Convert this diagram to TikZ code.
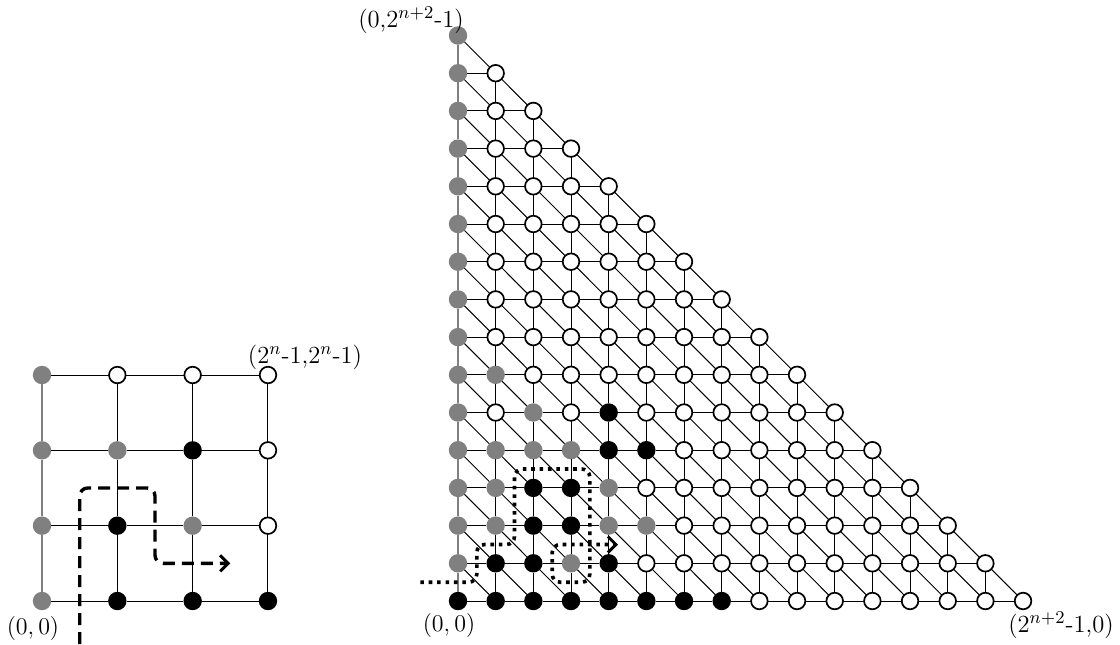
\documentclass[tikz,border=0pt]{standalone}
\usetikzlibrary{arrows.meta}
\begin{document}
\begin{tikzpicture}[x=0.5pt,y=-0.5pt,
  pt/.style={circle,inner sep=0pt,outer sep=0pt},
  wn/.style={pt,draw=black,fill=white,line width=0.85pt,minimum size=8.3pt},
  bn/.style={pt,draw=none,fill=black,minimum size=9.2pt},
  gn/.style={pt,draw=none,fill=gray,minimum size=9.2pt},
  edge/.style={line width=0.5pt,black},
  gedge/.style={line width=0.6pt,gray},
  lbl/.style={font=\fontsize{12.3}{14}\selectfont,inner sep=0pt},
  dashpath/.style={line width=1.7pt,dash pattern=on 6pt off 3.5pt,rounded corners=4pt,
    -{Straight Barb[length=4pt,width=8pt,line width=1.5pt]}},
  dotpath/.style={line width=1.8pt,dash pattern=on 1.8pt off 2.4pt,rounded corners=4pt,
    -{Straight Barb[length=4pt,width=8pt,line width=1.5pt]}},
  % right grid colours
  Rc0/.style={gn},
  R0-0/.style={bn},R1-0/.style={bn},R2-0/.style={bn},R3-0/.style={bn},
  R4-0/.style={bn},R5-0/.style={bn},R6-0/.style={bn},R7-0/.style={bn},
  R1-1/.style={bn},R2-1/.style={bn},R3-1/.style={gn},R4-1/.style={bn},
  R1-2/.style={gn},R2-2/.style={bn},R3-2/.style={bn},R4-2/.style={gn},R5-2/.style={gn},
  R1-3/.style={gn},R2-3/.style={bn},R3-3/.style={bn},R4-3/.style={gn},
  R1-4/.style={gn},R2-4/.style={gn},R3-4/.style={gn},R4-4/.style={bn},R5-4/.style={bn},
  R2-5/.style={gn},R4-5/.style={bn},
  R1-6/.style={gn},
  % left grid colours
  Lc0/.style={gn},
  L1-0/.style={bn},L2-0/.style={bn},L3-0/.style={bn},
  L1-1/.style={bn},L2-1/.style={gn},
  L1-2/.style={gn},L2-2/.style={bn}
]
\useasboundingbox (0,0) rectangle (1120,644);

% ---------- left grid ----------
\foreach \j in {0,...,3}{
  \foreach \i in {0,...,3}{
    \node[wn,Lc\i/.try,L\i-\j/.try] (l-\i-\j) at ({42+75.33*\i},{601-75.33*\j}) {};
  }
}
\foreach \j in {0,...,3}{
  \foreach \i in {0,...,2}{
    \pgfmathtruncatemacro\ii{\i+1}
    \draw[edge] (l-\i-\j) -- (l-\ii-\j);
  }
}
\foreach \i in {0,...,3}{
  \foreach \j in {0,...,2}{
    \pgfmathtruncatemacro\jj{\j+1}
    \ifnum\i=0
      \draw[gedge] (l-\i-\j) -- (l-\i-\jj);
    \else
      \draw[edge] (l-\i-\j) -- (l-\i-\jj);
    \fi
  }
}

% ---------- right triangle ----------
\foreach \j in {0,...,15}{
  \pgfmathtruncatemacro\m{15-\j}
  \foreach \i in {0,...,\m}{
    \node[wn,Rc\i/.try,R\i-\j/.try] (r-\i-\j) at ({458+37.67*\i},{601-37.7*\j}) {};
  }
}
\foreach \j in {0,...,14}{
  \pgfmathtruncatemacro\m{14-\j}
  \foreach \i in {0,...,\m}{
    \pgfmathtruncatemacro\ii{\i+1}
    \pgfmathtruncatemacro\jj{\j+1}
    \draw[edge] (r-\i-\j) -- (r-\ii-\j);
    \ifnum\i=0
      \draw[gedge] (r-\i-\j) -- (r-\i-\jj);
    \else
      \draw[edge] (r-\i-\j) -- (r-\i-\jj);
    \fi
    \draw[edge] (r-\i-\jj) -- (r-\ii-\j);
  }
}

% ---------- labels ----------
\node[lbl] (lab00l) at (33,628) {$(0,0)$};
\node[lbl] (lab00r) at (449,625) {$(0,0)$};
\node[lbl] (labsq) at (305,357) {(2$^n$-1,2$^n$-1)};
\node[lbl] (labtop) at (411,20) {(0,2$^{n+2}$-1)};
\node[lbl] (labbr) at (1061,625) {(2$^{n+2}$-1,0)};

% ---------- paths ----------
\coordinate (ds) at (79.7,644);
\coordinate (de) at (230.3,563.3);
\draw[dashpath] (ds) |- (155,488) |- (de);

\coordinate (ps) at (420.3,582.2);
\coordinate (pe) at (618,544.5);
\draw[dotpath] (ps) -- (476.8,582.2) -- (476.8,544.5) -- (514.5,544.5)
  -- (514.5,469) -- (589.8,469) -- (589.8,582.2) -- (552.2,582.2)
  -- (552.2,544.5) -- (pe);
\end{tikzpicture}
\end{document}
